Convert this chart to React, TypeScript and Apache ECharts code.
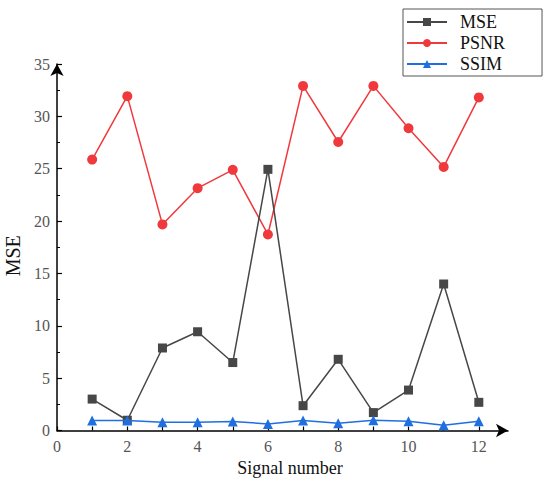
import React, { useEffect, useRef } from "react";
import * as echarts from "echarts";

const signals = [1, 2, 3, 4, 5, 6, 7, 8, 9, 10, 11, 12];
const mse = [3.0, 0.98, 7.88, 9.43, 6.49, 24.94, 2.37, 6.8, 1.71, 3.86, 13.99, 2.69];
const psnr = [25.87, 31.93, 19.68, 23.14, 24.89, 18.72, 32.91, 27.55, 32.91, 28.86, 25.17, 31.81];
const ssim = [0.95, 0.95, 0.79, 0.79, 0.85, 0.63, 0.95, 0.7, 0.98, 0.89, 0.5, 0.89];
const xTickValues = [0, 1, 2, 3, 4, 5, 6, 7, 8, 9, 10, 11, 12];
const xLabelValues = [0, 2, 4, 6, 8, 10, 12];

const FONT = "'Liberation Serif', 'Times New Roman', serif";

export default function App() {
  const ref = useRef<HTMLDivElement>(null);
  useEffect(() => {
    document.body.style.margin = "0";
    const chart = echarts.init(ref.current!, null, { renderer: "svg" });
    const pair = (arr: number[]) => signals.map((s, i) => [s, arr[i]]);
    chart.setOption({
      animation: false,
      backgroundColor: "#ffffff",
      grid: { left: 57, right: 42, top: 64, bottom: 56.5, containLabel: false, outerBoundsMode: "none" },
      legend: {
        orient: "vertical",
        left: 403,
        top: 9,
        itemWidth: 40,
        itemHeight: 10,
        itemGap: 3,
        padding: [4, 37, 3, 3],
        borderColor: "#555",
        borderWidth: 1,
        borderRadius: 0,
        textStyle: { fontFamily: FONT, fontSize: 18, color: "#111", padding: [0, 0, 0, 8] },
        data: ["MSE", "PSNR", "SSIM"],
      },
      xAxis: {
        type: "value",
        min: 0,
        max: 12.83,
        name: "Signal number",
        nameLocation: "middle",
        nameGap: 28,
        nameTextStyle: { fontFamily: FONT, fontSize: 18, color: "#111", padding: [0, 0, 0, 15] },
        axisLine: {
          show: true,
          onZero: false,
          symbol: ["none", "arrow"],
          symbolSize: [10, 12],
          lineStyle: { color: "#000", width: 1.5 },
        },
        axisTick: { show: true, inside: true, length: 4, customValues: xTickValues, lineStyle: { color: "#000", width: 1.2 } },
        axisLabel: { customValues: xLabelValues, fontFamily: FONT, fontSize: 16, color: "#555", margin: 8 },
        splitLine: { show: false },
      },
      yAxis: {
        type: "value",
        min: 0,
        max: 35,
        interval: 5,
        name: "MSE",
        nameLocation: "middle",
        nameGap: 32,
        nameRotate: 90,
        nameTextStyle: { fontFamily: FONT, fontSize: 20, color: "#111", padding: [0, 17, 0, 0] },
        axisLine: {
          show: true,
          symbol: ["none", "arrow"],
          symbolSize: [10, 12],
          lineStyle: { color: "#000", width: 1.5 },
        },
        axisTick: { show: true, inside: true, length: 5, lineStyle: { color: "#000", width: 1.2 } },
        minorTick: { show: true, splitNumber: 2, length: 3, lineStyle: { color: "#000", width: 1 } },
        axisLabel: { fontFamily: FONT, fontSize: 16, color: "#555", margin: 7 },
        splitLine: { show: false },
      },
      series: [
        {
          name: "MSE",
          type: "line",
          data: pair(mse),
          symbol: "rect",
          symbolSize: 9,
          itemStyle: { color: "#474747" },
          lineStyle: { color: "#474747", width: 1.5 },
          z: 3,
        },
        {
          name: "PSNR",
          type: "line",
          data: pair(psnr),
          symbol: "circle",
          symbolSize: 10,
          itemStyle: { color: "#f0393c" },
          lineStyle: { color: "#f0393c", width: 1.5 },
          z: 2,
        },
        {
          name: "SSIM",
          type: "line",
          data: pair(ssim),
          symbol: "triangle",
          symbolSize: 10,
          itemStyle: { color: "#1f6fe0" },
          lineStyle: { color: "#1f6fe0", width: 1.5 },
          z: 4,
        },
      ],
    });
    return () => chart.dispose();
  }, []);
  return <div ref={ref} style={{ width: 550, height: 487 }} />;
}
